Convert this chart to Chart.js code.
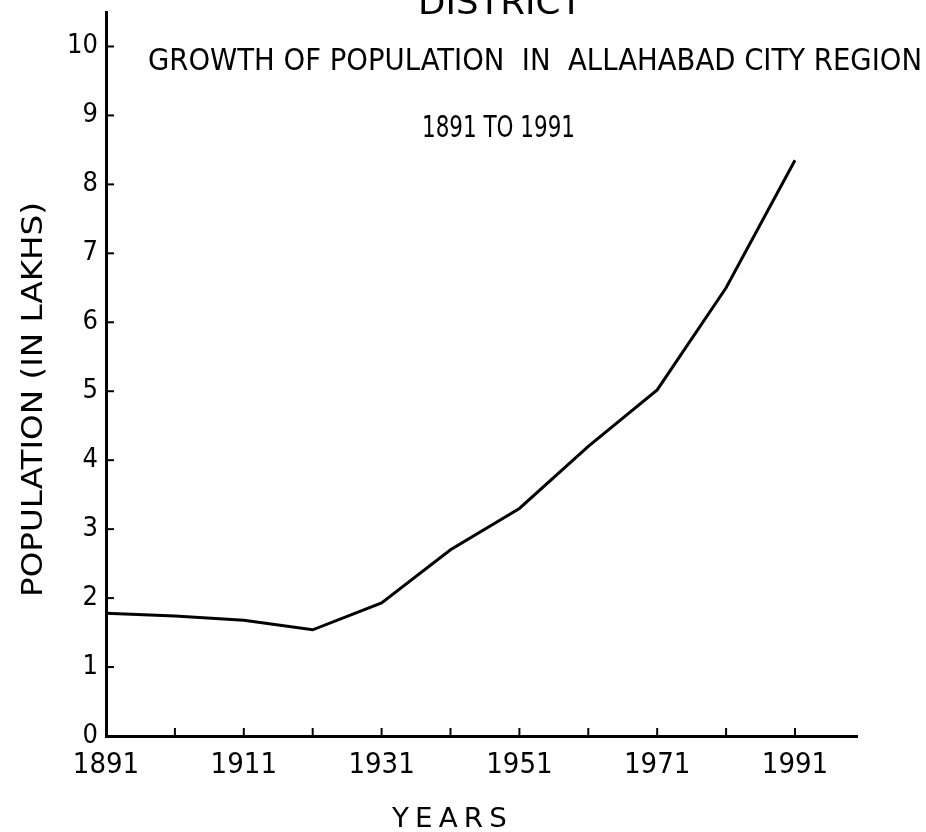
<!DOCTYPE html>
<html>
<head>
  <title>Growth of Population in Allahabad City Region</title>
  <meta name="viewport" content="width=device-width, initial-scale=1">
  <script src="https://cdn.jsdelivr.net/npm/chart.js"></script>
  <style>
    body { margin: 0; background: white; }
    .chart-box { position: relative; width: 926px; height: 832px; }
  </style>
</head>
<body>
  <div class="chart-box"><canvas id="popChart"></canvas></div>

  <script>
    // census years and population (in lakhs)
    var years = [1891, 1901, 1911, 1921, 1931, 1941, 1951, 1961, 1971, 1981, 1991];
    var population = [1.78, 1.74, 1.68, 1.54, 1.93, 2.70, 3.30, 4.20, 5.02, 6.50, 8.35];

    // only every second census gets a label
    var yearLabels = [1891, 1911, 1931, 1951, 1971, 1991];
    var popTicks = [0, 1, 2, 3, 4, 5, 6, 7, 8, 9, 10];

    var narrow = "'Liberation Sans Narrow', 'DejaVu Sans Condensed', sans-serif";
    var wide = "'DejaVu Sans', sans-serif";

    // draw text stretched between two x positions
    function fitText(ctx, text, left, right, baseline, font) {
      ctx.font = font;
      var w = ctx.measureText(text).width;
      ctx.save();
      ctx.translate(left, baseline);
      ctx.scale((right - left) / w, 1);
      ctx.textAlign = 'left';
      ctx.textBaseline = 'alphabetic';
      ctx.fillText(text, 0, 0);
      ctx.restore();
    }

    // small tick marks pointing into the plot
    var innerTicks = {
      id: 'innerTicks',
      afterDatasetsDraw: function(chart) {
        var ctx = chart.ctx, area = chart.chartArea;
        var xs = chart.scales.x, ys = chart.scales.y;
        ctx.save();
        ctx.strokeStyle = '#000';
        ctx.lineWidth = 2;
        xs.ticks.forEach(function(t) {
          if (t.value === xs.min) return;
          var px = xs.getPixelForValue(t.value);
          ctx.beginPath();
          ctx.moveTo(px, area.bottom);
          ctx.lineTo(px, area.bottom - 8);
          ctx.stroke();
        });
        ys.ticks.forEach(function(t) {
          if (t.value === ys.min) return;
          var py = ys.getPixelForValue(t.value);
          ctx.beginPath();
          ctx.moveTo(area.left, py);
          ctx.lineTo(area.left + 8, py);
          ctx.stroke();
        });
        ctx.restore();
      }
    };

    // headings and axis titles
    var headings = {
      id: 'headings',
      afterDraw: function(chart) {
        var ctx = chart.ctx;
        ctx.save();
        ctx.fillStyle = '#000';
        fitText(ctx, 'DISTRICT', 418, 582, 14, '34px ' + wide);
        fitText(ctx, 'GROWTH OF POPULATION  IN  ALLAHABAD CITY REGION', 148, 922, 70, '31px ' + narrow);
        fitText(ctx, '1891 TO 1991', 422, 575, 137, '31px ' + narrow);

        ctx.letterSpacing = '6px';
        fitText(ctx, 'YEARS', 392, 513, 827, '27px ' + wide);
        ctx.letterSpacing = '0px';

        ctx.translate(42, 597);
        ctx.rotate(-Math.PI / 2);
        fitText(ctx, 'POPULATION (IN LAKHS)', 0, 395, 0, '29px ' + wide);
        ctx.restore();
      }
    };

    var points = years.map(function(yr, i) { return { x: yr, y: population[i] }; });

    var popChart = new Chart(document.getElementById('popChart'), {
      type: 'line',
      data: {
        datasets: [{
          label: 'Population (lakhs)',
          data: points,
          borderColor: '#000',
          borderWidth: 3,
          pointRadius: 0,
          tension: 0,
          fill: false
        }]
      },
      options: {
        responsive: true,
        maintainAspectRatio: false,
        animation: false,
        layout: { padding: { top: 12, right: 69, left: 0, bottom: 0 } },
        plugins: {
          legend: { display: false },
          tooltip: { enabled: false }
        },
        scales: {
          x: {
            type: 'linear',
            min: 1891,
            max: 2000,
            grid: { display: false, drawTicks: false },
            border: { display: true, color: '#000', width: 3 },
            afterBuildTicks: function(scale) {
              scale.ticks = years.map(function(v) { return { value: v }; });
            },
            afterFit: function(scale) { scale.height = 96; },
            ticks: {
              autoSkip: false,
              maxRotation: 0,
              padding: 12,
              color: '#000',
              font: { family: narrow, size: 29 },
              callback: function(v) {
                return yearLabels.indexOf(v) >= 0 ? String(v) : '';
              }
            }
          },
          y: {
            min: 0,
            max: 10.5,
            grid: { display: false, drawTicks: false },
            border: { display: true, color: '#000', width: 3 },
            afterBuildTicks: function(scale) {
              scale.ticks = popTicks.map(function(v) { return { value: v }; });
            },
            afterFit: function(scale) {
              scale.width = 106;
              // the top label sits below the axis end, no extra room needed
              scale.paddingTop = 0;
              scale.paddingBottom = 0;
            },
            ticks: {
              padding: 8,
              color: '#000',
              font: { family: narrow, size: 27 },
              callback: function(v) { return String(v); }
            }
          }
        }
      },
      plugins: [innerTicks, headings]
    });
  </script>
</body>
</html>
